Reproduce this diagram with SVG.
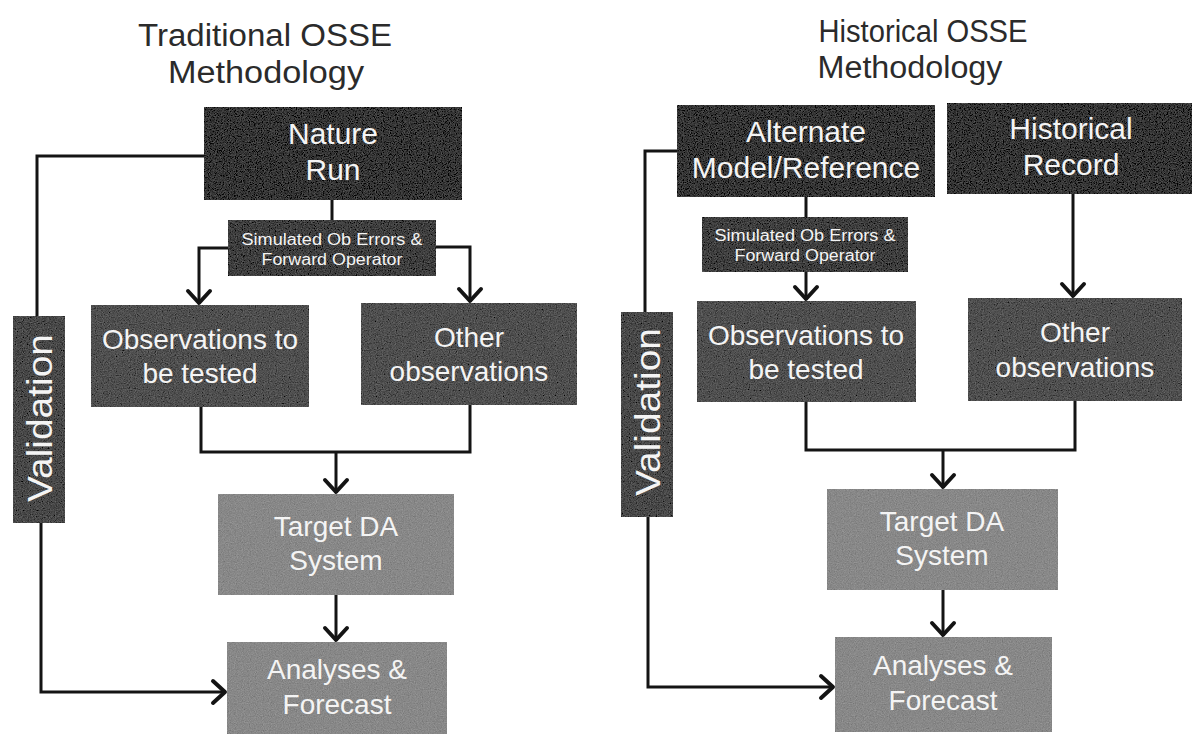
<svg xmlns="http://www.w3.org/2000/svg" width="1192" height="734" viewBox="0 0 1192 734">
  <style>
    .t { font-family: "Liberation Sans", Arial, sans-serif; fill: #f4f4f4; text-anchor: middle; }
    .big { font-size: 30px; }
    .med { font-size: 28px; }
    .sm { font-size: 16px; }
    .val { font-size: 35px; }
    .title { font-family: "Liberation Sans", Arial, sans-serif; font-size: 31px; fill: #2b2b2b; text-anchor: middle; }
    .box { filter: url(#grain); }
    .dark { fill: #323232; }
    .sim { fill: #3c3c3c; }
    .mid { fill: #4d4d4d; }
    .vbox { fill: #464646; }
    .light { fill: #878787; }
    .c { stroke: #141414; stroke-width: 3; fill: none; }
    .arr { marker-end: url(#ah); }
  </style>
  <defs>
    <filter id="grain" x="0" y="0" width="1" height="1">
      <feTurbulence type="fractalNoise" baseFrequency="0.85" numOctaves="2" seed="7" result="noise"/>
      <feColorMatrix in="noise" type="matrix" values="0.33 0.33 0.33 0 0  0.33 0.33 0.33 0 0  0.33 0.33 0.33 0 0  0 0 0 0 1" result="gray"/>
      <feComposite in="SourceGraphic" in2="gray" operator="arithmetic" k1="0" k2="1" k3="0.35" k4="-0.17" result="mix"/>
      <feComposite in="mix" in2="SourceGraphic" operator="in"/>
    </filter>
    <marker id="ah" markerUnits="userSpaceOnUse" viewBox="-17 -14 20 28" refX="0" refY="0" markerWidth="20" markerHeight="28" orient="auto">
      <path d="M-13,-11 L-1,0 L-13,11" fill="none" stroke="#141414" stroke-width="4" stroke-linecap="round" stroke-linejoin="round"/>
    </marker>
  </defs>

  <rect x="0" y="0" width="1192" height="734" fill="#ffffff"/>

  <!-- Titles -->
  <g id="title-left">
    <text class="title" x="265" y="46" textLength="254" lengthAdjust="spacingAndGlyphs">Traditional OSSE</text>
    <text class="title" x="266" y="83" textLength="196" lengthAdjust="spacingAndGlyphs">Methodology</text>
  </g>
  <g id="title-right">
    <text class="title" x="923" y="42" textLength="209" lengthAdjust="spacingAndGlyphs">Historical OSSE</text>
    <text class="title" x="910" y="78" textLength="185" lengthAdjust="spacingAndGlyphs">Methodology</text>
  </g>

  <!-- Connectors -->
  <g id="connectors">
    <!-- left -->
    <polyline class="c" points="204,156 37,156 37,317"/>
    <polyline class="c arr" points="41,523 41,692 226,692"/>
    <line class="c" x1="332" y1="200" x2="332" y2="220"/>
    <polyline class="c arr" points="228,248 199,248 199,304"/>
    <polyline class="c arr" points="436,247 470,247 470,302"/>
    <polyline class="c" points="201,407 201,452 470,452 470,405"/>
    <line class="c arr" x1="336" y1="452" x2="336" y2="493"/>
    <line class="c arr" x1="336" y1="595" x2="336" y2="641"/>
    <!-- right -->
    <polyline class="c" points="677,151 645,151 645,312"/>
    <polyline class="c arr" points="648,517 648,687 834,687"/>
    <line class="c" x1="806" y1="197" x2="806" y2="217"/>
    <line class="c arr" x1="806" y1="272" x2="806" y2="300"/>
    <line class="c arr" x1="1073" y1="194" x2="1073" y2="297"/>
    <polyline class="c" points="806,402 806,450 1075,450 1075,401"/>
    <line class="c arr" x1="943" y1="450" x2="943" y2="488"/>
    <line class="c arr" x1="943" y1="590" x2="943" y2="636"/>
  </g>

  <!-- Left nodes -->
  <g id="nature-run">
    <rect class="box dark" x="204" y="107" width="258" height="93"/>
    <text class="t big" x="333" y="144">Nature</text>
    <text class="t big" x="333" y="180">Run</text>
  </g>
  <g id="sim-left">
    <rect class="box sim" x="228" y="220" width="208" height="56"/>
    <text class="t sm" x="332" y="245" textLength="181" lengthAdjust="spacingAndGlyphs">Simulated Ob Errors &amp;</text>
    <text class="t sm" x="332" y="265" textLength="141" lengthAdjust="spacingAndGlyphs">Forward Operator</text>
  </g>
  <g id="obs-left">
    <rect class="box mid" x="91" y="305" width="218" height="102"/>
    <text class="t med" x="200" y="349">Observations to</text>
    <text class="t med" x="200" y="383">be tested</text>
  </g>
  <g id="other-left">
    <rect class="box mid" x="361" y="303" width="216" height="102"/>
    <text class="t med" x="469" y="347">Other</text>
    <text class="t med" x="469" y="381">observations</text>
  </g>
  <g id="validation-left">
    <rect class="box vbox" x="13" y="316" width="52" height="207"/>
    <text class="t val" transform="translate(52,418) rotate(-90)" x="0" y="0" textLength="168" lengthAdjust="spacingAndGlyphs">Validation</text>
  </g>
  <g id="target-left">
    <rect class="box light" x="218" y="494" width="236" height="101"/>
    <text class="t med" x="336" y="536">Target DA</text>
    <text class="t med" x="336" y="570">System</text>
  </g>
  <g id="analyses-left">
    <rect class="box light" x="227" y="642" width="220" height="92"/>
    <text class="t med" x="337" y="679">Analyses &amp;</text>
    <text class="t med" x="337" y="714">Forecast</text>
  </g>

  <!-- Right nodes -->
  <g id="alternate-model">
    <rect class="box dark" x="677" y="105" width="258" height="92"/>
    <text class="t big" x="806" y="142">Alternate</text>
    <text class="t big" x="806" y="178">Model/Reference</text>
  </g>
  <g id="historical-record">
    <rect class="box dark" x="947" y="103" width="245" height="91"/>
    <text class="t big" x="1071" y="139">Historical</text>
    <text class="t big" x="1071" y="175">Record</text>
  </g>
  <g id="sim-right">
    <rect class="box sim" x="702" y="217" width="206" height="55"/>
    <text class="t sm" x="805" y="241" textLength="181" lengthAdjust="spacingAndGlyphs">Simulated Ob Errors &amp;</text>
    <text class="t sm" x="805" y="261" textLength="141" lengthAdjust="spacingAndGlyphs">Forward Operator</text>
  </g>
  <g id="obs-right">
    <rect class="box mid" x="697" y="301" width="219" height="101"/>
    <text class="t med" x="806" y="345">Observations to</text>
    <text class="t med" x="806" y="379">be tested</text>
  </g>
  <g id="other-right">
    <rect class="box mid" x="968" y="298" width="214" height="103"/>
    <text class="t med" x="1075" y="342">Other</text>
    <text class="t med" x="1075" y="377">observations</text>
  </g>
  <g id="validation-right">
    <rect class="box vbox" x="621" y="312" width="52" height="205"/>
    <text class="t val" transform="translate(660,412) rotate(-90)" x="0" y="0" textLength="168" lengthAdjust="spacingAndGlyphs">Validation</text>
  </g>
  <g id="target-right">
    <rect class="box light" x="827" y="489" width="231" height="101"/>
    <text class="t med" x="942" y="531">Target DA</text>
    <text class="t med" x="942" y="565">System</text>
  </g>
  <g id="analyses-right">
    <rect class="box light" x="835" y="637" width="217" height="95"/>
    <text class="t med" x="943" y="675">Analyses &amp;</text>
    <text class="t med" x="943" y="710">Forecast</text>
  </g>
</svg>
